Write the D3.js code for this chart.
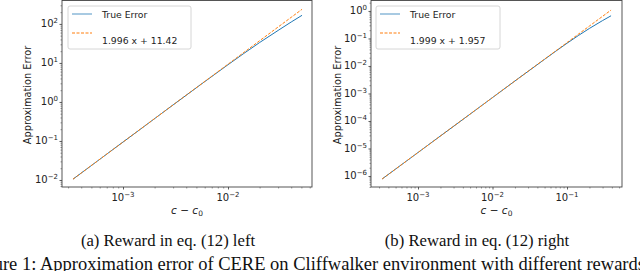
<!DOCTYPE html>
<html lang="en">
<head>
<meta charset="utf-8">
<title>Approximation error of CERE</title>
<script src="https://d3js.org/d3.v7.min.js"></script>
<style>
  body { margin: 0; background: #fff; }
  svg { display: block; }
</style>
</head>
<body>
<script>
// values (c - c0 on x, approximation error on y)
var leftX      = [3.34e-4, 1e-3, 3e-3, 1e-2, 2e-2, 3e-2, 4e-2, 5.07e-2];
var leftTrue   = [0.0105, 0.0937, 0.839, 9.0, 33.3, 68, 112, 166];
var leftFit    = [0.0105, 0.0937, 0.839, 9.28, 37.0, 83.2, 147.7, 237];
var leftLabel  = "1.996 x + 11.42";

var rightX     = [3.3e-4, 1e-3, 1e-2, 0.05, 0.1, 0.2, 0.3, 0.39];
var rightTrue  = [7.8e-7, 7.13e-6, 7.1e-4, 0.0175, 0.067, 0.232, 0.447, 0.668];
var rightFit   = [7.8e-7, 7.13e-6, 7.11e-4, 0.01775, 0.0710, 0.2837, 0.638, 1.078];
var rightLabel = "1.999 x + 1.957";

var leftYTicks  = [-2, -1, 0, 1, 2];
var leftXTicks  = [-3, -2];
var rightYTicks = [-6, -5, -4, -3, -2, -1, 0];
var rightXTicks = [-3, -2, -1];

var captions = ["(a) Reward in eq. (12) left", "(b) Reward in eq. (12) right"];
var figCaption = "Figure 1: Approximation error of CERE on Cliffwalker environment with different rewards.";

var width = 640, height = 271;
var blue = "#1f77b4", orange = "#ff7f0e";
var sans = "DejaVu Sans, sans-serif";

var svg = d3.select("body").append("svg")
    .attr("width", width)
    .attr("height", height);

function panel(opt) {
  var x = d3.scaleLog().domain(opt.xDom).range([opt.left, opt.right]);
  var y = d3.scaleLog().domain(opt.yDom).range([opt.bottom, opt.top]);
  var g = svg.append("g");

  // minor ticks (2..9 in every decade)
  function minors(dom) {
    var out = [];
    var lo = Math.floor(Math.log10(dom[0])), hi = Math.ceil(Math.log10(dom[1]));
    for (var e = lo; e <= hi; e++)
      for (var m = 2; m <= 9; m++) {
        var v = m * Math.pow(10, e);
        if (v >= dom[0] && v <= dom[1]) out.push(v);
      }
    return out;
  }

  var yMajor = opt.yTicks.map(function(e) { return Math.pow(10, e); });
  var xMajor = opt.xTicks.map(function(e) { return Math.pow(10, e); });

  g.append("g")
      .attr("transform", "translate(" + opt.left + ",0)")
      .call(d3.axisLeft(y).tickValues(minors(opt.yDom)).tickSize(1.5).tickFormat(""))
      .call(function(s) { s.select(".domain").remove(); s.selectAll("line").attr("stroke", "#555").attr("stroke-width", 0.6); });
  g.append("g")
      .attr("transform", "translate(0," + opt.bottom + ")")
      .call(d3.axisBottom(x).tickValues(minors(opt.xDom)).tickSize(1.5).tickFormat(""))
      .call(function(s) { s.select(".domain").remove(); s.selectAll("line").attr("stroke", "#555").attr("stroke-width", 0.6); });

  var ya = g.append("g")
      .attr("transform", "translate(" + opt.left + ",0)")
      .call(d3.axisLeft(y).tickValues(yMajor).tickSize(2.5).tickFormat(""));
  ya.select(".domain").remove();
  ya.selectAll("line").attr("stroke", "#333").attr("stroke-width", 0.8);

  var xa = g.append("g")
      .attr("transform", "translate(0," + opt.bottom + ")")
      .call(d3.axisBottom(x).tickValues(xMajor).tickSize(2.5).tickFormat(""));
  xa.select(".domain").remove();
  xa.selectAll("line").attr("stroke", "#333").attr("stroke-width", 0.8);

  // tick labels with superscripts
  opt.yTicks.forEach(function(e) {
    var t = g.append("text")
        .attr("x", opt.left - 4)
        .attr("y", y(Math.pow(10, e)) + 3.5)
        .attr("text-anchor", "end")
        .style("font-family", sans)
        .style("font-size", "10px")
        .attr("fill", "#222");
    t.append("tspan").text("10");
    t.append("tspan").attr("dy", -4).style("font-size", "7px").text(String(e).replace("-", "\u2212"));
  });
  opt.xTicks.forEach(function(e) {
    var t = g.append("text")
        .attr("x", x(Math.pow(10, e)))
        .attr("y", opt.bottom + 14)
        .attr("text-anchor", "middle")
        .style("font-family", sans)
        .style("font-size", "10px")
        .attr("fill", "#222");
    t.append("tspan").text("10");
    t.append("tspan").attr("dy", -4).style("font-size", "7px").text(String(e).replace("-", "\u2212"));
  });

  // lines
  var line = d3.line()
      .x(function(d) { return x(d[0]); })
      .y(function(d) { return y(d[1]); })
      .curve(d3.curveMonotoneX);
  g.append("path")
      .datum(d3.zip(opt.xs, opt.trueErr))
      .attr("fill", "none").attr("stroke", blue).attr("stroke-width", 1)
      .attr("d", line);
  g.append("path")
      .datum(d3.zip(opt.xs, opt.fit))
      .attr("fill", "none").attr("stroke", orange).attr("stroke-width", 1)
      .attr("stroke-dasharray", "3,1.5")
      .attr("d", line);

  // frame
  g.append("rect")
      .attr("x", opt.left).attr("y", opt.top)
      .attr("width", opt.right - opt.left).attr("height", opt.bottom - opt.top)
      .attr("fill", "none").attr("stroke", "#444").attr("stroke-width", 0.9);

  // axis labels
  g.append("text")
      .attr("transform", "translate(" + opt.yLabelX + "," + 95 + ") rotate(-90)")
      .attr("text-anchor", "middle")
      .style("font-family", sans)
      .style("font-size", "9.8px")
      .attr("fill", "#222")
      .text("Approximation Error");
  var xl = g.append("text")
      .attr("x", (opt.left + opt.right) / 2)
      .attr("y", opt.bottom + 27)
      .attr("text-anchor", "middle")
      .style("font-family", sans)
      .style("font-size", "10.5px")
      .attr("fill", "#222");
  xl.append("tspan").style("font-style", "italic").text("c");
  xl.append("tspan").text(" \u2212 ");
  xl.append("tspan").style("font-style", "italic").text("c");
  xl.append("tspan").attr("dy", 2).style("font-size", "7.5px").text("0");

  // legend
  var lg = g.append("g").attr("transform", "translate(" + opt.legX + ",6)");
  lg.append("rect")
      .attr("width", opt.legW).attr("height", 43)
      .attr("rx", 2).attr("fill", "#fff").attr("fill-opacity", 0.8)
      .attr("stroke", "#ccc").attr("stroke-width", 0.8);
  lg.append("line").attr("x1", 4).attr("x2", 24).attr("y1", 8).attr("y2", 8)
      .attr("stroke", blue).attr("stroke-width", 1.3).attr("stroke-opacity", 0.6);
  lg.append("text").attr("x", 34).attr("y", 11.5)
      .style("font-family", sans).style("font-size", "9.3px")
      .attr("fill", "#222").text("True Error");
  lg.append("line").attr("x1", 4).attr("x2", 24).attr("y1", 27).attr("y2", 27)
      .attr("stroke", orange).attr("stroke-width", 1.1).attr("stroke-dasharray", "3,1.5");
  lg.append("text").attr("x", 34).attr("y", 37.5)
      .style("font-family", sans).style("font-size", "9.3px")
      .attr("fill", "#222").text(opt.legLabel);

  // sub caption
  svg.append("text")
      .attr("x", opt.capX).attr("y", 246)
      .attr("text-anchor", "middle")
      .style("font-family", "Liberation Serif, serif")
      .style("font-size", "16.7px")
      .attr("fill", "#111")
      .text(opt.caption);
}

panel({
  left: 62, right: 312, top: 0.5, bottom: 187,
  xDom: [Math.pow(10, -3.581), Math.pow(10, -1.2)],
  yDom: [Math.pow(10, -2.18), Math.pow(10, 2.6)],
  xTicks: leftXTicks, yTicks: leftYTicks,
  xs: leftX, trueErr: leftTrue, fit: leftFit,
  yLabelX: 31, legX: 68, legW: 123, legLabel: leftLabel,
  caption: captions[0], capX: 168
});

panel({
  left: 371, right: 622, top: 0.5, bottom: 187,
  xDom: [Math.pow(10, -3.631), Math.pow(10, -0.262)],
  yDom: [Math.pow(10, -6.4), Math.pow(10, 0.38)],
  xTicks: rightXTicks, yTicks: rightYTicks,
  xs: rightX, trueErr: rightTrue, fit: rightFit,
  yLabelX: 341, legX: 376, legW: 124, legLabel: rightLabel,
  caption: captions[1], capX: 477
});

// figure caption, cut by the bottom and sides of the crop as in the original
svg.append("text")
    .attr("x", -31).attr("y", 269.5)
    .style("font-family", "Liberation Serif, serif")
    .style("font-size", "18.5px")
    .attr("fill", "#111")
    .text(figCaption);
</script>
</body>
</html>
